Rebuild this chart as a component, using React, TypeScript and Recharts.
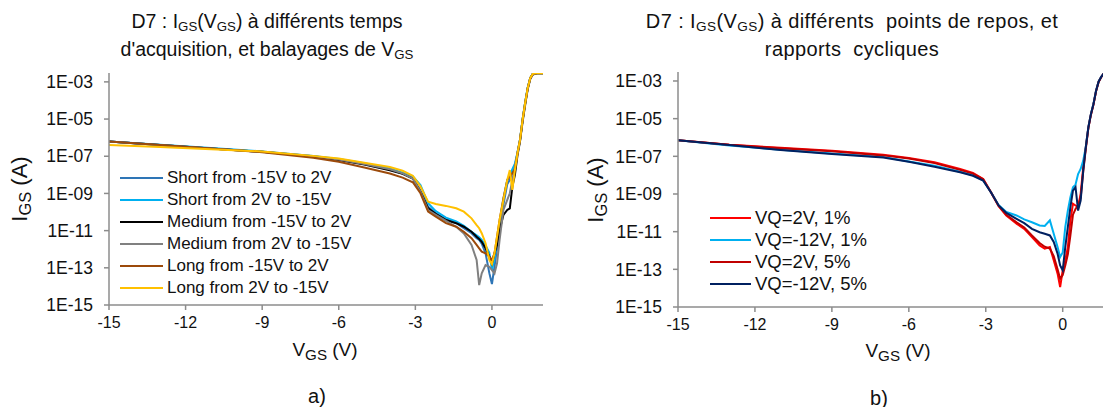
import React from 'react';
import { LineChart, Line, XAxis, YAxis } from 'recharts';

// chart a) : sweep voltage grid (V) and log10(I_GS)
const vA = [-15, -13, -11, -9, -7, -6, -5, -4, -3.5, -3.1, -2.8, -2.5, -2.2, -1.8, -1.4, -1.1, -0.8, -0.6, -0.5, -0.4, -0.25, -0.1, 0, 0.1, 0.2, 0.3, 0.45, 0.6, 0.7, 0.8, 0.9, 1.0, 1.1, 1.2, 1.3, 1.4, 1.5, 1.6, 1.8, 2];
const shortUp = [-6.21, -6.4, -6.58, -6.76, -7.0, -7.18, -7.42, -7.72, -7.93, -8.15, -8.85, -9.71, -10.07, -10.39, -10.6, -10.87, -11.14, -11.41, -11.5, -11.7, -12.22, -13.3, -13.87, -12.94, -11.95, -10.7, -9.6, -8.5, -8.27, -7.9, -7.5, -6.84, -6.12, -5.05, -4.15, -3.34, -2.8, -2.57, -2.53, -2.53];
const shortDown = [-6.2, -6.38, -6.56, -6.74, -6.98, -7.15, -7.38, -7.66, -7.88, -8.08, -8.55, -9.53, -9.95, -10.3, -10.5, -10.74, -11.06, -11.25, -11.35, -11.5, -11.8, -12.2, -13.1, -12.5, -11.6, -10.6, -9.3, -8.3, -8.0, -7.7, -7.4, -6.8, -6.1, -5.0, -4.1, -3.3, -2.78, -2.56, -2.53, -2.53];
const mediumUp = [-6.21, -6.4, -6.58, -6.76, -7.02, -7.2, -7.45, -7.75, -7.95, -8.2, -8.9, -9.8, -10.1, -10.43, -10.6, -10.79, -11.06, -11.33, -11.45, -11.6, -11.95, -12.4, -12.76, -12.22, -11.77, -10.97, -10.16, -9.89, -9.8, -8.63, -8.0, -6.95, -6.2, -5.15, -4.25, -3.4, -2.85, -2.6, -2.53, -2.53];
const mediumDown = [-6.21, -6.4, -6.58, -6.76, -7.0, -7.18, -7.42, -7.7, -7.92, -8.2, -8.9, -9.9, -10.15, -10.48, -10.79, -11.15, -11.77, -12.58, -13.93, -13.3, -12.85, -12.94, -13.12, -13.3, -12.76, -11.5, -9.89, -9.35, -8.99, -8.27, -7.56, -6.84, -6.12, -5.05, -4.15, -3.34, -2.8, -2.57, -2.53, -2.53];
const longUp = [-6.21, -6.4, -6.58, -6.78, -7.08, -7.3, -7.6, -7.93, -8.15, -8.4, -8.99, -9.98, -10.25, -10.6, -10.79, -11.06, -11.41, -11.77, -11.95, -12.13, -12.22, -12.4, -12.58, -12.22, -11.33, -10.43, -9.25, -8.27, -8.1, -7.9, -7.7, -6.84, -6.12, -5.05, -4.15, -3.34, -2.8, -2.57, -2.53, -2.53];
const longDown = [-6.39, -6.5, -6.62, -6.74, -6.98, -7.12, -7.35, -7.58, -7.78, -8.05, -8.63, -9.44, -9.57, -9.67, -9.8, -9.98, -10.34, -10.7, -10.87, -11.14, -11.68, -12.58, -12.8, -12.22, -11.33, -10.43, -9.35, -8.27, -7.74, -8.81, -7.74, -6.84, -6.12, -5.05, -4.15, -3.34, -2.8, -2.57, -2.53, -2.53];

// chart b)
const vB = [-15, -13, -11, -9, -7, -6, -5, -4, -3.5, -3.1, -2.8, -2.5, -2.2, -1.8, -1.5, -1.2, -0.9, -0.7, -0.5, -0.35, -0.2, -0.1, 0, 0.1, 0.2, 0.3, 0.4, 0.5, 0.6, 0.7, 0.8, 0.9, 1.0, 1.1, 1.2, 1.3, 1.4, 1.5, 1.6, 2];
const vq2v1 = [-6.14, -6.38, -6.55, -6.7, -6.92, -7.09, -7.32, -7.67, -7.88, -8.2, -8.91, -9.65, -10.14, -10.58, -10.85, -11.29, -11.73, -11.9, -11.82, -12.52, -13.23, -13.94, -13.05, -12.52, -11.82, -10.4, -9.52, -9.61, -9.7, -8.99, -7.59, -6.53, -5.47, -4.76, -4.23, -3.53, -3.04, -2.79, -2.6, -2.53];
const vqm12v1 = [-6.14, -6.42, -6.65, -6.85, -7.03, -7.27, -7.5, -7.82, -8.0, -8.27, -8.9, -9.58, -9.95, -10.14, -10.35, -10.5, -10.67, -10.7, -10.4, -11.11, -11.82, -12.35, -12.1, -10.76, -9.88, -9.17, -8.64, -8.5, -7.94, -7.67, -7.23, -6.5, -5.45, -4.75, -4.2, -3.5, -3.02, -2.78, -2.6, -2.53];
const vq2v5 = [-6.14, -6.39, -6.57, -6.73, -6.95, -7.12, -7.36, -7.72, -7.92, -8.22, -8.9, -9.62, -10.1, -10.5, -10.78, -11.2, -11.6, -11.8, -11.9, -12.3, -13.0, -13.5, -13.3, -12.8, -12.2, -11.2, -10.1, -9.8, -9.6, -9.2, -7.8, -6.6, -5.5, -4.8, -4.25, -3.55, -3.05, -2.8, -2.6, -2.53];
const vqm12v5 = [-6.14, -6.4, -6.67, -6.88, -7.06, -7.29, -7.55, -7.85, -8.03, -8.29, -8.91, -9.61, -10.0, -10.32, -10.55, -10.85, -11.03, -11.11, -11.2, -11.55, -12.17, -12.79, -13.05, -11.82, -10.76, -9.7, -8.82, -8.64, -9.88, -9.35, -7.76, -6.53, -5.47, -4.76, -4.23, -3.53, -3.04, -2.79, -2.6, -2.53];

const xTicks = [-15, -12, -9, -6, -3, 0];
const yTicks = [1e-15, 1e-13, 1e-11, 1e-9, 1e-7, 1e-5, 1e-3];

const FONT = '"Liberation Sans", Arial, sans-serif';
const AXIS = '#8c8c8c';
const TEXT = '#111111';

const seriesA = [
  { key: 'shortUp', name: 'Short from -15V to 2V', color: '#2e75b6', vals: shortUp },
  { key: 'shortDown', name: 'Short from 2V to -15V', color: '#00b0f0', vals: shortDown },
  { key: 'mediumUp', name: 'Medium from -15V to 2V', color: '#000000', vals: mediumUp },
  { key: 'mediumDown', name: 'Medium from 2V to -15V', color: '#808080', vals: mediumDown },
  { key: 'longUp', name: 'Long from -15V to 2V', color: '#9c4a0a', vals: longUp },
  { key: 'longDown', name: 'Long from 2V to -15V', color: '#ffc000', vals: longDown },
];

const seriesB = [
  { key: 'vq2v1', name: 'VQ=2V, 1%', color: '#ff0000', vals: vq2v1 },
  { key: 'vqm12v1', name: 'VQ=-12V, 1%', color: '#00b0f0', vals: vqm12v1 },
  { key: 'vq2v5', name: 'VQ=2V, 5%', color: '#c00000', vals: vq2v5 },
  { key: 'vqm12v5', name: 'VQ=-12V, 5%', color: '#002060', vals: vqm12v5 },
];

function buildRows(v: number[], series: { key: string; vals: number[] }[]) {
  return v.map((x, i) => {
    const row: any = { v: x };
    series.forEach((s) => (row[s.key] = Math.pow(10, s.vals[i])));
    return row;
  });
}

const fmtExp = (val: number) => {
  const e = Math.round(Math.log10(val));
  return `1E-${String(-e).padStart(2, '0')}`;
};

const Sub = ({ children, size = 0.68 }: any) => (
  <span style={{ fontSize: `${size}em`, verticalAlign: '-0.22em' }}>{children}</span>
);

function Panel({ left, width, margin, series, v, legendLeft, legendTop, lineLen, legendFont }: any) {
  const data = buildRows(v, series);
  return (
    <div style={{ position: 'absolute', left, top: 0 }}>
      <LineChart width={width} height={407} data={data} margin={margin}>
        <XAxis
          dataKey="v"
          type="number"
          domain={[-15, 2]}
          ticks={xTicks}
          interval={0}
          height={30}
          stroke={AXIS}
          strokeWidth={1.5}
          tickSize={5}
          tickMargin={7}
          tick={{ fill: TEXT, fontSize: 16, fontFamily: FONT }}
          allowDataOverflow
        />
        <YAxis
          type="number"
          scale="log"
          domain={[1e-15, 3e-3]}
          ticks={yTicks}
          interval={0}
          width={70}
          stroke={AXIS}
          strokeWidth={1.5}
          tickSize={5}
          tickMargin={11}
          tickFormatter={fmtExp}
          tick={{ fill: TEXT, fontSize: 17.5, fontFamily: FONT }}
          allowDataOverflow
        />
        {series.map((s: any) => (
          <Line
            key={s.key}
            dataKey={s.key}
            name={s.name}
            stroke={s.color}
            strokeWidth={2}
            dot={false}
            type="linear"
            isAnimationActive={false}
          />
        ))}
      </LineChart>
      {series.map((s: any, i: number) => (
        <div
          key={s.key}
          style={{
            position: 'absolute',
            left: legendLeft - left,
            top: legendTop + i * 22 - 11,
            height: 22,
            display: 'flex',
            alignItems: 'center',
            fontFamily: FONT,
            fontSize: legendFont,
            color: TEXT,
            whiteSpace: 'nowrap',
          }}
        >
          <span style={{ display: 'inline-block', width: lineLen, height: 2.5, background: s.color, marginRight: 4 }} />
          {s.name}
        </div>
      ))}
    </div>
  );
}

const abs = (x: number, y: number, extra: any = {}) => ({
  position: 'absolute' as const,
  left: x,
  top: y,
  transform: 'translate(-50%, -50%)',
  fontFamily: FONT,
  color: TEXT,
  whiteSpace: 'nowrap' as const,
  ...extra,
});

export default function App() {
  return (
    <div style={{ position: 'fixed', left: 0, top: 0, width: 1103, height: 407, overflow: 'hidden', background: '#fff' }}>
      <Panel
        left={0}
        width={560}
        margin={{ top: 73, right: 17, left: 39, bottom: 72 }}
        series={seriesA}
        v={vA}
        legendLeft={120}
        legendTop={178}
        lineLen={43}
        legendFont={17}
      />
      <Panel
        left={560}
        width={570}
        margin={{ top: 72, right: 16, left: 48, bottom: 70 }}
        series={seriesB}
        v={vB}
        legendLeft={710}
        legendTop={218}
        lineLen={41}
        legendFont={18.5}
      />

      <div style={{ position: 'absolute', left: 267, top: 10, transform: 'translateX(-50%)', textAlign: 'center', fontFamily: FONT, fontSize: 19.5, lineHeight: '23px', color: TEXT, whiteSpace: 'nowrap' }}>
        D7 : I<Sub>GS</Sub>(V<Sub>GS</Sub>) à différents temps
        <br />
        d'acquisition, et balayages de V<Sub>GS</Sub>
      </div>
      <div style={{ position: 'absolute', left: 852, top: 10, transform: 'translateX(-50%)', textAlign: 'center', fontFamily: FONT, fontSize: 20, letterSpacing: 0.4, lineHeight: '23px', color: TEXT, whiteSpace: 'pre' }}>
        D7 : I<Sub>GS</Sub>(V<Sub>GS</Sub>) à différents  points de repos, et
        <br />
        rapports  cycliques
      </div>

      <div style={abs(21, 189, { fontSize: 22, transform: 'translate(-50%, -50%) rotate(-90deg)' })}>
        I<Sub size={0.75}>GS</Sub> (A)
      </div>
      <div style={abs(597, 190, { fontSize: 22, transform: 'translate(-50%, -50%) rotate(-90deg)' })}>
        I<Sub size={0.75}>GS</Sub> (A)
      </div>

      <div style={abs(325, 351, { fontSize: 19 })}>
        V<Sub size={0.8}>GS</Sub> (V)
      </div>
      <div style={abs(898, 352, { fontSize: 19 })}>
        V<Sub size={0.8}>GS</Sub> (V)
      </div>

      <div style={abs(317, 396, { fontSize: 20 })}>a)</div>
      <div style={abs(879, 398, { fontSize: 20 })}>b)</div>
    </div>
  );
}
